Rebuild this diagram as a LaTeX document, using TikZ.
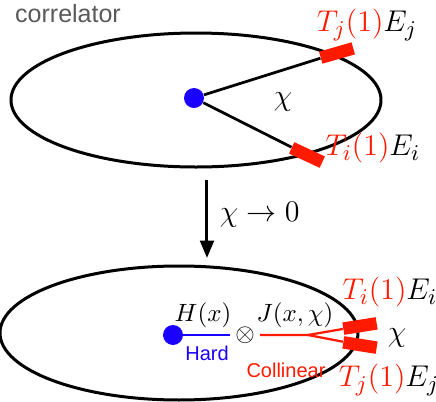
\documentclass[tikz,border=0pt]{standalone}
\usepackage[no-math]{fontspec}
\newfontfamily\helv{Liberation Sans}
\usetikzlibrary{arrows.meta, positioning}
\definecolor{corrred}{HTML}{FF1A00}
\definecolor{corrblue}{HTML}{1A00FF}
\definecolor{corrgray}{HTML}{5A5A5A}

\begin{document}
\begin{tikzpicture}[
   x=0.4pt, y=-0.4pt,
   ring/.style={draw=black, line width=1.2pt},
   vertex/.style={circle, fill=corrblue, inner sep=0pt, minimum size=8pt},
   blk/.style={rectangle, fill=corrred, inner sep=0pt,
               minimum width=13.5pt, minimum height=5pt},
   leg/.style={line width=1.1pt},
   jet/.style={line width=0.9pt, corrred},
   big/.style={font=\fontsize{13}{15}\selectfont},
   tag/.style={font=\helv\footnotesize, inner sep=1pt},
   arr/.style={-{Triangle[length=7pt, width=5.5pt]}, line width=1.2pt}]
 \useasboundingbox (0,0) rectangle (436,402);
 % full correlator
 \draw[ring] (196,100) ellipse [x radius=185, y radius=67];
 \node[tag, text=corrgray, font=\helv] (corr) at (68,14) {correlator};
 \node[vertex] (v) at (194,98) {};
 \node[blk, rotate=16]  (bj) at (337,53) {};
 \node[blk, rotate=-25] (bi) at (307,155) {};
 \draw[leg] (v) -- (bj);
 \draw[leg] (v) -- (bi);
 \node[big] (chi) at (283,102) {$\chi$};
 \node[big] (lj) at (367,25)  {$\textcolor{corrred}{T_j(1)}E_j$};
 \node[big] (li) at (373,148) {$\textcolor{corrred}{T_i(1)}E_i$};
 % limit
 \coordinate (top) at (207,180);
 \coordinate (bot) at (207,258);
 \draw[arr] (top) -- (bot);
 \node[anchor=west] (lim) at (211,215) {\large$\chi\to0$};
 % collinear limit
 \draw[ring] (179,333) ellipse [x radius=179, y radius=67];
 \node[vertex] (h) at (173,335) {};
 \node[inner sep=0pt] (x) at (245,335) {$\otimes$};
 \coordinate (split) at (308,335);
 \node[blk, rotate=9]  (ui) at (360,326) {};
 \node[blk, rotate=-9] (uj) at (360,345) {};
 \draw[jet, corrblue, shorten >=2pt] (h) -- (x);
 \draw[jet, shorten <=2pt] (x) -- (split) -- (ui);
 \draw[jet] (split) -- (uj);
 \node (hx) at (203,315) {$H(x)$};
 \node (jx) at (295,315) {$J(x,\chi)$};
 \node[tag, text=corrblue] (hard) at (207,353) {Hard};
 \node[tag, text=corrred]  (coll) at (286,370) {Collinear};
 \node[big] (chi2) at (397,338) {$\chi$};
 \node[big] (li2) at (390,292) {$\textcolor{corrred}{T_i(1)}E_i$};
 \node[big] (lj2) at (389,380) {$\textcolor{corrred}{T_j(1)}E_j$};
\end{tikzpicture}
\end{document}
